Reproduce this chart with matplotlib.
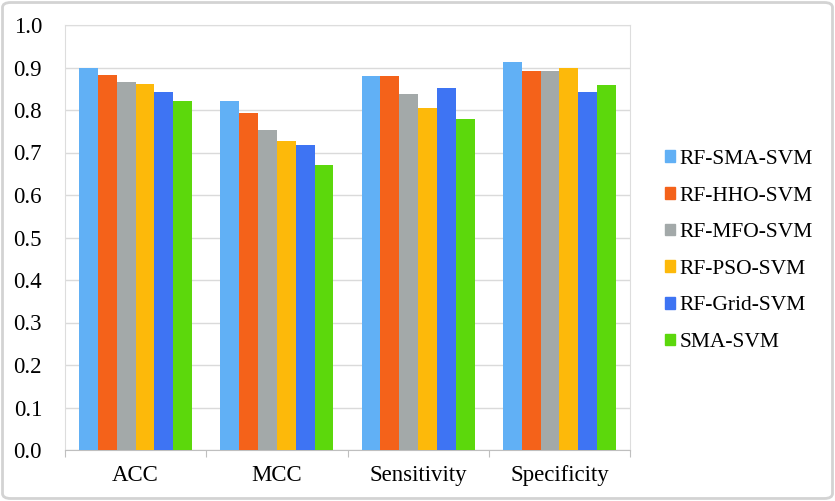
import matplotlib.pyplot as plt
import numpy as np
from matplotlib.patches import FancyBboxPatch, Patch

metrics = ['ACC', 'MCC', 'Sensitivity', 'Specificity']
models = ['RF-SMA-SVM', 'RF-HHO-SVM', 'RF-MFO-SVM', 'RF-PSO-SVM', 'RF-Grid-SVM', 'SMA-SVM']

rf_sma_svm = [0.900, 0.822, 0.880, 0.914]
rf_hho_svm = [0.882, 0.792, 0.880, 0.891]
rf_mfo_svm = [0.866, 0.753, 0.838, 0.891]
rf_pso_svm = [0.861, 0.726, 0.804, 0.899]
rf_grid_svm = [0.843, 0.717, 0.851, 0.842]
sma_svm = [0.822, 0.670, 0.780, 0.860]

series = [rf_sma_svm, rf_hho_svm, rf_mfo_svm, rf_pso_svm, rf_grid_svm, sma_svm]
colors = ['#61B0F5', '#F4621A', '#A3A9A9', '#FDB90A', '#3E74F3', '#5CD80C']

plt.rcParams['font.family'] = ['Liberation Serif', 'DejaVu Serif']

fig = plt.figure(figsize=(8.35, 5.01), dpi=100)
ax = fig.add_axes([65/835, 1-450/501, (630-65)/835, (450-25)/501])

x = np.arange(len(metrics))
w = 1/7.5
for i, (vals, c) in enumerate(zip(series, colors)):
    ax.bar(x + (i - 2.5) * w, vals, width=w, color=c, zorder=3, label=models[i])

ax.set_xlim(-0.5, 3.5)
ax.set_ylim(0, 1.0)
ax.set_yticks(np.arange(0, 1.01, 0.1))
ax.set_yticklabels([f'{v:.1f}' for v in np.arange(0, 1.01, 0.1)], fontsize=16.5)
ax.tick_params(axis='y', length=0, pad=16.5)
ax.grid(axis='y', color='#DADADA', linewidth=1, zorder=0)

# category boundaries as ticks, labels at centers
ax.set_xticks(np.arange(-0.5, 4, 1))
ax.set_xticklabels([])
ax.set_xticks(x, minor=True)
ax.set_xticklabels(metrics, minor=True, fontsize=16.5)
ax.tick_params(axis='x', which='major', length=5, color='#BFBFBF')
ax.tick_params(axis='x', which='minor', length=0, pad=11)

for s in ['left', 'top', 'right']:
    ax.spines[s].set_color('#DDDDDD')
ax.spines['bottom'].set_color('#BFBFBF')

handles = [Patch(color=c) for c in colors]
fig.legend(handles, models, loc='center left', bbox_to_anchor=(665/835, 1 - 251/501),
           frameon=False, fontsize=15.5, handlelength=0.47, handleheight=0.47,
           handletextpad=0.2, labelspacing=0.82, borderpad=0, borderaxespad=0)

border = FancyBboxPatch((0.003, 0.005), 0.994, 0.99, boxstyle='round,pad=0,rounding_size=0.01',
                        transform=fig.transFigure, fill=False, edgecolor='#D3D3D3', linewidth=2)
fig.patches.append(border)

plt.savefig('out.png', dpi=100)
